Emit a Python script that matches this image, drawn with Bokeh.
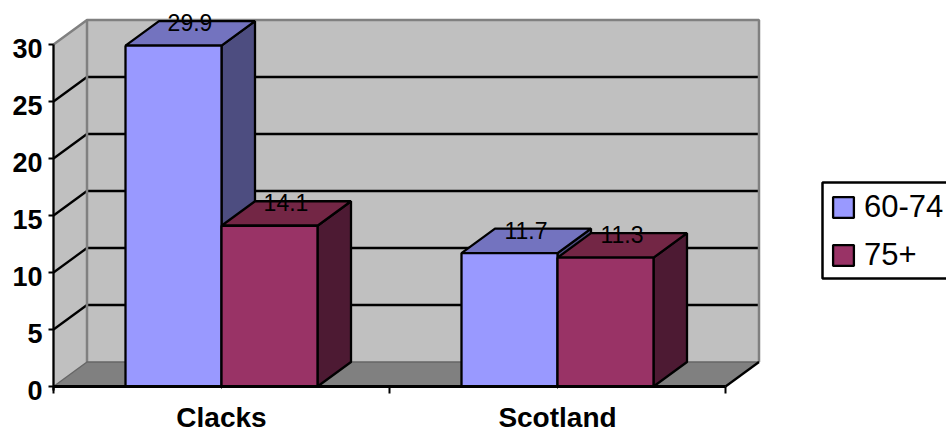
from bokeh.embed import file_html
from bokeh.models import BoxAnnotation, FixedTicker, Legend, LegendItem, Range1d
from bokeh.plotting import figure
from bokeh.resources import INLINE
from bokeh.core.properties import value

categories = ["Clacks", "Scotland"]
series_names = ["60-74", "75+"]
values_60_74 = [29.9, 11.7]
values_75_plus = [14.1, 11.3]
y_ticks = [0, 5, 10, 15, 20, 25, 30]

FONT = "Liberation Sans"
W, H = 946, 433
LEFT, BASE, PLOT_W, UNIT_PX = 53, 386, 672, 11.4   # pixel position of the front plane
CAT_PX = PLOT_W / len(categories)
DX = 33.5 / CAT_PX      # depth of the 3D box, in axis units
DY = 24.5 / UNIT_PX
BAR_W = 96 / CAT_PX
LABEL_SHIFT = 0.35      # value labels sit slightly below their ticks

# The frame fills the canvas; both axes are pinned to the front plane inside it
p = figure(width=W, height=H, output_backend="svg", toolbar_location=None,
           x_range=Range1d(-LEFT / CAT_PX, (W - LEFT) / CAT_PX),
           y_range=Range1d((BASE - H) / UNIT_PX, BASE / UNIT_PX),
           min_border=0, background_fill_color="white",
           border_fill_color="white", outline_line_color=None)
p.xgrid.visible = False
p.ygrid.visible = False

x_max = float(len(categories))
y_max = float(y_ticks[-1])

# Walls and floor of the chart box
p.patch([0, DX, DX, 0], [0, DY, y_max + DY, y_max], fill_color="#C0C0C0", line_color=None)
p.patch([DX, x_max + DX, x_max + DX, DX], [DY, DY, y_max + DY, y_max + DY],
        fill_color="#C0C0C0", line_color=None)
p.patch([0, x_max, x_max + DX, DX], [0, 0, DY, DY], fill_color="#808080", line_color=None)

# Gridlines run across the back wall and down the left wall
inner = y_ticks[1:-1]
p.segment([DX] * len(inner), [v + DY for v in inner], [x_max + DX] * len(inner),
          [v + DY for v in inner], line_color="black", line_width=2.3)
p.segment([0] * len(inner), inner, [DX] * len(inner), [v + DY for v in inner],
          line_color="black", line_width=2.3)

# Grey edges of the walls
p.line([0, DX, x_max + DX, x_max + DX], [y_max, y_max + DY, y_max + DY, DY],
       line_color="#808080", line_width=2.5)
p.line([DX, DX], [DY, y_max + DY], line_color="#808080", line_width=2.5)
p.line([0, DX, x_max + DX], [0, DY, DY], line_color="#666666", line_width=1.5)
p.line([x_max, x_max + DX], [0, DY], line_color="black", line_width=2.3)


def box_series(vals, slot, front, top, side):
    """Draw one series as 3D boxes; slot is -1 or 0 for the left or right bar of a group."""
    lefts = [i + 0.5 + slot * BAR_W for i in range(len(vals))]
    rights = [l + BAR_W for l in lefts]
    p.patches([[r, r + DX, r + DX, r] for r in rights],
              [[0, DY, v + DY, v] for v in vals],
              fill_color=side, line_color="black", line_width=2.3)
    p.patches([[l, r, r + DX, l + DX] for l, r in zip(lefts, rights)],
              [[v, v, v + DY, v + DY] for v in vals],
              fill_color=top, line_color="black", line_width=2.3)
    return p.quad(left=lefts, right=rights, bottom=[0] * len(vals), top=vals,
                  fill_color=front, line_color="black", line_width=2.3)


r1 = box_series(values_60_74, -1, "#9999FF", "#7373BF", "#4D4D80")
r2 = box_series(values_75_plus, 0, "#993366", "#732645", "#4D1A33")

# Value labels float above the top face of each box
for vals, slot in ((values_60_74, -0.5), (values_75_plus, 0.5)):
    p.text([i + 0.5 + slot * BAR_W for i in range(len(vals))], vals,
           text=[str(v) for v in vals], x_offset=16.5, y_offset=-23,
           text_align="center", text_baseline="middle", text_color="black",
           text_font=value(FONT), text_font_size="23px")

# Value axis: minor ticks mark the values, major ticks only carry the labels
ax = p.yaxis[0]
ax.fixed_location = 0
ax.ticker = FixedTicker(ticks=[v - LABEL_SHIFT for v in y_ticks], minor_ticks=y_ticks)
ax.major_label_overrides = {v - LABEL_SHIFT: str(v) for v in y_ticks}
ax.bounds = (-LABEL_SHIFT, y_max)
ax.major_tick_line_color = None
ax.major_tick_out = 5
ax.major_tick_in = 0
ax.minor_tick_out = 5
ax.minor_tick_in = 0
ax.minor_tick_line_width = 2
ax.minor_tick_line_color = "black"
ax.axis_line_width = 2.3
ax.axis_line_color = "black"
ax.major_label_standoff = 6
ax.major_label_text_font = FONT
ax.major_label_text_font_style = "bold"
ax.major_label_text_font_size = "27px"
ax.major_label_text_color = "black"

# Category axis: group boundaries are minor ticks, group centres carry the names
bx = p.xaxis[0]
bx.fixed_location = 0
centres = [i + 0.5 for i in range(len(categories))]
bx.ticker = FixedTicker(ticks=centres, minor_ticks=[float(i) for i in range(len(categories) + 1)])
bx.major_label_overrides = dict(zip(centres, categories))
bx.bounds = (0, x_max)
bx.major_tick_out = 2
bx.major_tick_in = 0
bx.major_tick_line_width = 1
bx.major_tick_line_color = "black"
bx.minor_tick_out = 7
bx.minor_tick_in = 0
bx.minor_tick_line_width = 2
bx.minor_tick_line_color = "black"
bx.axis_line_width = 3
bx.axis_line_color = "black"
bx.major_label_standoff = 8
bx.major_label_text_font = FONT
bx.major_label_text_font_style = "bold"
bx.major_label_text_font_size = "28px"
bx.major_label_text_color = "black"

# Legend frame runs off the right edge of the canvas
p.add_layout(BoxAnnotation(left=822, right=W + 20, top=H - 182, bottom=H - 278,
                           left_units="screen", right_units="screen",
                           top_units="screen", bottom_units="screen",
                           fill_color="white", fill_alpha=1.0,
                           line_color="black", line_width=2.5, line_alpha=1.0))
legend = Legend(items=[LegendItem(label=series_names[0], renderers=[r1]),
                       LegendItem(label=series_names[1], renderers=[r2])],
                location=(830, 160), orientation="vertical",
                glyph_width=26, glyph_height=26, label_standoff=8, spacing=12,
                padding=6, margin=0, label_height=23, label_width=90,
                label_text_font=FONT, label_text_font_size="31px",
                label_text_color="black", label_text_baseline="middle",
                border_line_color=None, background_fill_alpha=0.0)
p.add_layout(legend)

open("out.html", "w").write(file_html(p, INLINE))
